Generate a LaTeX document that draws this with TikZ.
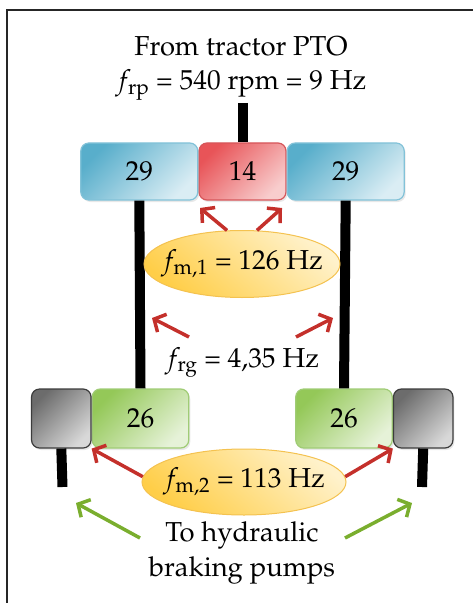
\documentclass[tikz,border=0pt]{standalone}
\usepackage[T1]{fontenc}
\usepackage{mathpazo}
\usepackage{xcolor}
\usetikzlibrary{positioning, arrows.meta, shapes.geometric, shadows}
\definecolor{gbbluedark}{RGB}{88, 174, 203}
\definecolor{gbbluelight}{RGB}{218, 237, 244}
\definecolor{gbblueline}{RGB}{130, 194, 216}
\definecolor{gbreddark}{RGB}{232, 84, 88}
\definecolor{gbredlight}{RGB}{248, 205, 205}
\definecolor{gbredline}{RGB}{214, 86, 90}
\definecolor{gbgreendark}{RGB}{148, 200, 88}
\definecolor{gbgreenlight}{RGB}{230, 242, 216}
\definecolor{gbgreenline}{RGB}{160, 204, 118}
\definecolor{gbgraydark}{RGB}{108, 108, 108}
\definecolor{gbgraylight}{RGB}{216, 216, 216}
\definecolor{gbgrayline}{RGB}{60, 60, 60}
\definecolor{ovaldark}{RGB}{255, 206, 72}
\definecolor{ovallight}{RGB}{255, 242, 204}
\definecolor{ovalline}{RGB}{244, 194, 80}
\definecolor{arrred}{RGB}{196, 48, 43}
\definecolor{arrgreen}{RGB}{122, 174, 46}
\tikzset{
    bigtext/.style={font=\fontsize{27.5}{35}\selectfont, inner sep=0pt},
    gear/.style={rectangle, rounded corners=8bp, line width=1.2bp, inner sep=0pt,
        bigtext, drop shadow={opacity=0.18, shadow xshift=1.5bp, shadow yshift=-2bp}},
    bluegear/.style={gear, draw=gbblueline, top color=gbbluedark, bottom color=gbbluelight,
        shading angle=45, minimum width=117bp, minimum height=57bp},
    redgear/.style={gear, draw=gbredline, top color=gbreddark, bottom color=gbredlight,
        shading angle=45, minimum width=87bp, minimum height=57bp},
    greengear/.style={gear, draw=gbgreenline, top color=gbgreendark, bottom color=gbgreenlight,
        shading angle=45, minimum width=96.5bp, minimum height=59bp},
    graygear/.style={gear, draw=gbgrayline, top color=gbgraydark, bottom color=gbgraylight,
        shading angle=45, minimum width=59.5bp, minimum height=59bp},
    freqoval/.style={ellipse, draw=ovalline, line width=1bp, inner sep=0pt,
        top color=ovallight, bottom color=ovaldark, shading angle=-40,
        label={[bigtext]center:#1}},
    shaft/.style={line width=10bp, black},
    redarrow/.style={line width=3.5bp, arrred, -{Straight Barb[length=9bp, width=20bp]}},
    greenarrow/.style={line width=3.5bp, arrgreen, -{Straight Barb[length=9bp, width=20bp]}}
}

\begin{document}
\begin{tikzpicture}[x=1bp, y=-1bp]
    \useasboundingbox (0,0) rectangle (473,603);
    \draw[line width=2bp, black!85] (7,603) -- (7,10) -- (473,10);

    \node[bigtext, align=center] (pto) at (241,68) {From tractor PTO\\$f_{\mathrm{rp}}$ = 540 rpm = 9 Hz};

    % gear train
    \node[redgear] (red) at (242.5,171.5) {14};
    \node[bluegear, left=0pt of red] (blueL) {29};
    \node[bluegear, right=0pt of red] (blueR) {29};
    \node[greengear] (greenL) at (140.5,418.5) {26};
    \node[graygear, left=0pt of greenL] (grayL) {};
    \node[greengear] (greenR) at (344,418.5) {26};
    \node[graygear, right=0pt of greenR] (grayR) {};

    \coordinate (ptoshaft) at (242.5,103);
    \coordinate (pumpL) at (62.5,487);
    \coordinate (pumpR) at (422,487);
    \draw[shaft] (ptoshaft) -- (red.north);
    \draw[shaft] (blueL.south) -- (greenL.north);
    \draw[shaft] (blueR.south) -- (greenR.north);
    \draw[shaft] (grayL.south) -- (pumpL);
    \draw[shaft] (grayR.south) -- (pumpR);

    \node[freqoval={$f_{\mathrm{m{,}1}}$ = 126 Hz}, minimum width=196bp, minimum height=67bp] (fm1) at (242,264) {};
    \node[freqoval={$f_{\mathrm{m{,}2}}$ = 113 Hz}, minimum width=204bp, minimum height=66bp] (fm2) at (244,482) {};
    \node[bigtext, anchor=base] (frg) at (242,367) {$f_{\mathrm{rg}}$ = 4,35 Hz};
    \node[bigtext, align=center] (pumps) at (242,553) {To hydraulic\\braking pumps};

    \coordinate (hitL) at (200,208);
    \coordinate (hitR) at (282,208);
    \coordinate (rgLfrom) at (189,337);
    \coordinate (rgLto) at (152,318);
    \coordinate (rgRfrom) at (296,337);
    \coordinate (rgRto) at (333,318);
    \coordinate (outLfrom) at (140,538);
    \coordinate (outLto) at (76,503);
    \coordinate (outRfrom) at (345,538);
    \coordinate (outRto) at (412,503);

    \draw[redarrow] (fm1.114) -- (hitL);
    \draw[redarrow] (fm1.66) -- (hitR);
    \draw[redarrow] (rgLfrom) -- (rgLto);
    \draw[redarrow] (rgRfrom) -- (rgRto);
    \draw[redarrow] (fm2.177) -- (grayL.south east);
    \draw[redarrow] (fm2.3) -- (grayR.south west);
    \draw[greenarrow] (outLfrom) -- (outLto);
    \draw[greenarrow] (outRfrom) -- (outRto);
\end{tikzpicture}
\end{document}
